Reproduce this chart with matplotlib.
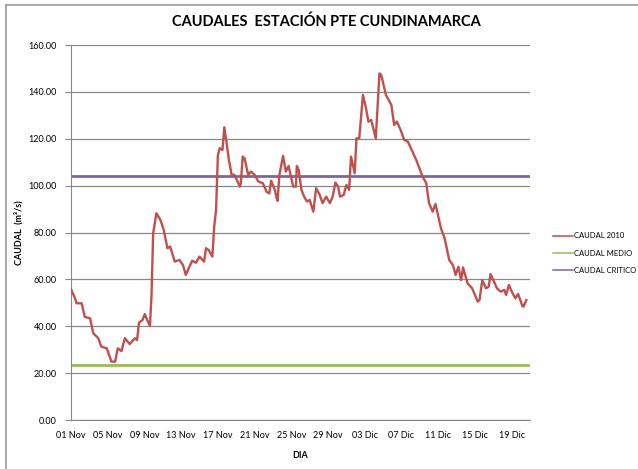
import matplotlib
matplotlib.use('Agg')
from matplotlib import pyplot as plt
from matplotlib.lines import Line2D

# days since 01 Nov 2010 and flow readings (m3/s)
dias = [0, 0.43, 0.6, 1.16, 1.5, 2.07, 2.43, 2.97, 3.3, 3.9, 4.4, 4.8, 5.1, 5.5,
        5.87, 6.4, 6.96, 7.2, 7.4, 7.8, 8.04, 8.3, 8.6, 8.77, 8.95, 9.3, 9.75,
        10.1, 10.5, 10.8, 11.3, 11.8, 12.2, 12.5, 12.9, 13.2, 13.6, 14.0, 14.5,
        14.7, 15.0, 15.4, 15.6, 15.8, 16.0, 16.2, 16.5, 16.7, 16.9, 17.2, 17.5,
        17.8, 18.4, 18.5, 18.7, 18.9, 19.3, 19.6, 20.0, 20.4, 20.9, 21.3, 21.6,
        21.8, 22.2, 22.4, 22.5, 22.7, 23.1, 23.4, 23.7, 24.2, 24.5, 24.6, 24.8,
        25.1, 25.4, 25.7, 26.0, 26.4, 26.7, 27.1, 27.4, 27.8, 28.2, 28.5, 28.8,
        29.1, 29.3, 29.7, 30.0, 30.3, 30.5, 30.9, 31.1, 31.4, 31.8, 32.1, 32.4,
        32.7, 33.2, 33.4, 33.6, 33.8, 34.3, 34.9, 35.2, 35.5, 35.9, 36.3, 36.7,
        37.6, 38.3, 38.7, 39.0, 39.4, 39.7, 40.3, 40.7, 41.2, 41.6, 41.9, 42.2,
        42.5, 42.7, 43.2, 43.7, 44.3, 44.5, 44.8, 45.2, 45.5, 45.7, 46.0, 46.4,
        46.8, 47.2, 47.4, 47.7, 48.1, 48.4, 48.7, 49.2, 49.3, 49.6]
caudal_2010 = [55.8, 52.0, 49.8, 49.8, 44.0, 43.4, 37.0, 34.9, 31.3, 30.6, 24.9,
               24.9, 30.6, 29.4, 34.9, 32.4, 34.9, 34.1, 41.5, 42.7, 45.2, 42.7,
               40.1, 53.3, 79.7, 88.2, 85.3, 81.1, 73.3, 74.0, 67.6, 68.3, 66.1,
               61.9, 65.4, 68.0, 67.1, 69.7, 67.6, 73.3, 72.5, 69.7, 82.5, 89.6,
               113.0, 116.0, 115.2, 124.9, 119.5, 111.0, 104.6, 104.6, 99.6,
               101.0, 112.4, 111.7, 104.6, 106.0, 104.6, 101.8, 101.0, 97.4,
               96.7, 102.1, 98.2, 94.6, 93.5, 104.6, 112.7, 106.0, 108.4, 99.6,
               99.6, 108.4, 106.7, 98.2, 95.3, 93.2, 93.9, 88.9, 98.9, 96.0,
               92.5, 95.3, 92.5, 95.3, 101.3, 99.6, 95.3, 96.0, 100.3, 98.2,
               112.4, 105.3, 120.2, 120.2, 138.7, 133.7, 127.3, 128.0, 120.2,
               133.7, 147.9, 147.2, 138.7, 134.4, 125.9, 127.3, 123.8, 119.5,
               118.8, 111.0, 103.8, 101.0, 92.5, 88.9, 92.2, 81.8, 77.5, 68.3,
               66.1, 61.9, 65.4, 59.7, 65.1, 58.3, 56.2, 50.5, 51.2, 59.7, 56.2,
               56.9, 62.3, 59.7, 56.2, 54.8, 55.5, 53.3, 57.6, 54.1, 51.9, 53.8,
               48.4, 48.4, 51.2]
caudal_medio = 23.5
caudal_critico = 104.0

tick_dias = [0, 4, 8, 12, 16, 20, 24, 28, 32, 36, 40, 44, 48]
tick_labels = ['01 Nov', '05 Nov', '09 Nov', '13 Nov', '17 Nov', '21 Nov', '25 Nov',
               '29 Nov', '03 Dic', '07 Dic', '11 Dic', '15 Dic', '19 Dic']

plt.rcParams['font.family'] = ['Lato', 'DejaVu Sans']

fig = plt.figure(figsize=(6.38, 4.69), dpi=100)
ax = fig.add_axes([71/638, 1 - 420/469, 459/638, 375/469])

ax.plot(dias, caudal_2010, color='#C0504D', lw=1.7, label='CAUDAL 2010', zorder=3)
ax.axhline(caudal_medio, color='#9BBB59', lw=2, label='CAUDAL MEDIO', zorder=2)
ax.axhline(caudal_critico, color='#8064A2', lw=2, label='CAUDAL CRITICO', zorder=2)

ax.set_xlim(0, 50)
ax.set_ylim(0, 160)
ax.set_yticks(range(0, 161, 20))
ax.set_yticklabels(['%.2f' % v for v in range(0, 161, 20)])
ax.set_xticks(tick_dias)
ax.set_xticklabels(tick_labels)
ax.tick_params(axis='both', labelsize=6.5, colors='#888888', labelcolor='black')
ax.tick_params(axis='x', length=0, pad=8)
ax.tick_params(axis='y', length=4, pad=6)
ax.grid(axis='y', color='#888888', lw=0.9)
ax.set_axisbelow(True)
for s in ['top', 'right']:
    ax.spines[s].set_visible(False)
for s in ['left', 'bottom']:
    ax.spines[s].set_color('#888888')

ax.set_xlabel('DIA', fontsize=6.5, fontweight='bold', labelpad=8)
ax.set_ylabel('CAUDAL  (m³/s)', fontsize=6.5, fontweight='bold', labelpad=4)
fig.text(326/638, 1 - 22/469, 'CAUDALES  ESTACIÓN PTE CUNDINAMARCA', ha='center',
         va='center', fontsize=10.5, fontweight='bold')

leg = fig.legend(loc='center left', bbox_to_anchor=(553/638, 1 - 253/469), frameon=False,
                 fontsize=5.5, handlelength=2.6, handletextpad=0.15, labelspacing=1.35,
                 borderpad=0, borderaxespad=0)
for h in leg.get_lines():
    h.set_linewidth(1.1)

# chart border like the spreadsheet frame
fig.add_artist(Line2D([6/638, 1], [1 - 5/469, 1 - 5/469], color='#999999', lw=1.2))
fig.add_artist(Line2D([6/638, 6/638], [0, 1 - 5/469], color='#999999', lw=1.2))

fig.savefig('out.png', dpi=100)
